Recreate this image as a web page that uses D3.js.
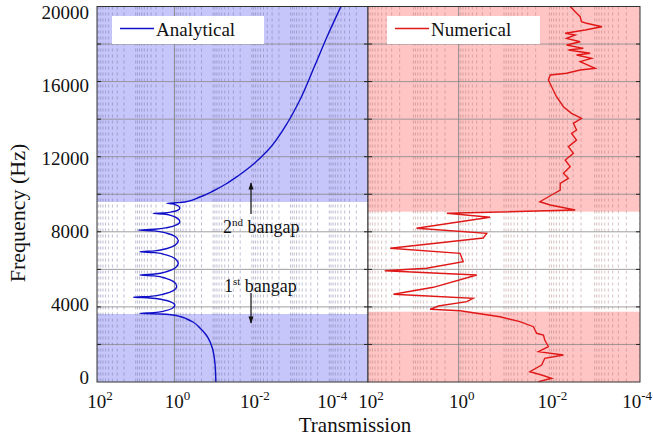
<!DOCTYPE html>
<html>
<head>
<meta charset="utf-8">
<script src="https://cdn.jsdelivr.net/npm/d3@7"></script>
<style>
  body { margin: 0; background: #fff; }
  text { font-family: "Liberation Serif", "Times New Roman", serif; fill: #111; }
</style>
</head>
<body>
<svg id="chart" width="653" height="442"></svg>
<script>
// analytical transmission (left panel)
const analyticalFreq = [0, 905, 1864, 2503, 2876, 3196, 3356, 3489, 3569, 3622, 3643, 3659,
  3693, 3787, 3915, 4085, 4255, 4383, 4477, 4511,
  4559, 4689, 4867, 5105, 5343, 5521, 5651, 5699,
  5749, 5885, 6071, 6320, 6568, 6754, 6890, 6940,
  6986, 7113, 7287, 7518, 7749, 7923, 8050, 8096,
  8132, 8229, 8363, 8541, 8718, 8852, 8949, 8985,
  9006, 9065, 9145, 9252, 9358, 9438, 9497, 9518,
  9550, 9587, 9853, 10173, 10546, 10972, 11451, 12357, 13848, 15020, 16778, 18375, 20000];
const analyticalTrans = [0.0851, 0.0891, 0.107, 0.151, 0.219, 0.331, 0.479, 0.724, 1.10, 2.34, 5.75, 7.76,
  3.47, 1.78, 1.15, 0.977, 1.20, 2.00, 4.37, 11.5,
  4.17, 1.86, 1.07, 0.871, 1.05, 1.66, 3.31, 7.76,
  3.16, 1.55, 0.955, 0.794, 0.955, 1.55, 3.16, 7.76,
  3.16, 1.55, 0.955, 0.794, 0.955, 1.58, 3.39, 8.51,
  3.24, 1.48, 0.891, 0.724, 0.832, 1.15, 1.91, 3.55,
  1.91, 1.15, 0.832, 0.724, 0.776, 0.912, 1.17, 1.58,
  0.891, 0.537, 0.219, 0.100, 0.0468, 0.0229, 0.0112, 0.00380, 0.00117, 0.000575, 0.000245, 0.000115, 0.0000501];

// numerical transmission (right panel)
const numericalFreq = [20, 197, 373, 549, 905, 1262, 1438, 1614, 1880, 2237, 2503, 2594, 2945, 3212, 3478,
  3798, 3872, 4048, 4277, 4458, 4671, 5044, 5699, 5928, 6056, 6407, 6855, 7121, 7670, 7920, 8186, 8772, 8985,
  9161, 9427, 9603, 9960, 10226, 10583, 10849, 11116, 11467, 11824, 12181, 12533, 12889, 13246, 13422, 13779,
  14045, 14311, 14663, 15196, 15728, 16085, 16351, 16442, 16618, 16708, 17060, 17241, 17417, 17507, 17683,
  17773, 17949, 18125, 18306, 18482, 18573, 18748, 18924, 19105, 19190, 19457, 19723, 20000];
const numericalTrans = [0.0174, 0.00891, 0.0148, 0.0269, 0.0148, 0.0126, 0.00490, 0.0174, 0.0105, 0.0126, 0.0135, 0.0191, 0.0224, 0.0447, 0.123,
  0.933, 4.27, 2.82, 0.661, 0.479, 27.5, 3.63, 0.398, 42.7, 5.13, 0.794, 0.933, 32.4, 0.288, 0.240, 8.51, 0.204, 1.82,
  0.00269, 0.00955, 0.0162, 0.00891, 0.00575, 0.00575, 0.00380, 0.00490, 0.00347, 0.00447, 0.00295, 0.00380, 0.00251, 0.00324, 0.00251, 0.00295,
  0.00195, 0.00324, 0.00490, 0.00692, 0.00891, 0.0105, 0.00955, 0.00417, 0.00209, 0.000977, 0.00209, 0.00117, 0.00251, 0.00126, 0.00380,
  0.00178, 0.00417, 0.00209, 0.00417, 0.00269, 0.00447, 0.00162, 0.000692, 0.00151, 0.00195, 0.00209, 0.00269, 0.00347];

// pass bands (white strips), Hz
const analyticalBand = [3623, 9590];
const numericalBand = [3745, 9073];

const freqTicks = [0, 4000, 8000, 12000, 16000, 20000];
const freqGrid = [2000, 4000, 6000, 8000, 10000, 12000, 14000, 16000, 18000];
const leftDecades = [100, 1, 0.01, 0.0001];
const rightDecades = [100, 1, 0.01, 0.0001];

let svg = d3.select("#chart");

let yTop = 6.5, yBottom = 382;
let y = d3.scaleLinear().domain([0, 20000]).range([yBottom, yTop]);
// tick labels sit a little inside the axis ends, like the original
let yLabel = d3.scaleLinear().domain([0, 20000]).range([377, 12.5]);

let panels = [
  { id: "L", x: d3.scaleLog().domain([100, 1e-5]).range([97, 368]), fill: "#c6c6fa", grid: "#6a6a9a",
    band: analyticalBand, decades: leftDecades, freq: analyticalFreq, trans: analyticalTrans, color: "#1010c8",
    curve: d3.curveMonotoneY, name: "Analytical", legendX: 112, legendW: 152 },
  { id: "R", x: d3.scaleLog().domain([100, 1e-4]).range([368, 640]), fill: "#ffc4c4", grid: "#a07070",
    band: numericalBand, decades: rightDecades, freq: numericalFreq, trans: numericalTrans, color: "#e01818",
    curve: d3.curveLinear, name: "Numerical", legendX: 387, legendW: 153 }
];

panels.forEach(function (p) {
  let x0 = p.x.range()[0], x1 = p.x.range()[1];
  let g = svg.append("g");

  svg.append("clipPath").attr("id", "clip" + p.id)
    .append("rect").attr("x", x0).attr("y", yTop).attr("width", x1 - x0).attr("height", yBottom - yTop);
  g.attr("clip-path", "url(#clip" + p.id + ")");

  //coloured background with the white pass band
  g.append("rect").attr("x", x0).attr("y", yTop).attr("width", x1 - x0).attr("height", yBottom - yTop)
    .attr("fill", p.fill);
  g.append("rect").attr("x", x0).attr("y", y(p.band[1])).attr("width", x1 - x0)
    .attr("height", y(p.band[0]) - y(p.band[1])).attr("fill", "#fff");

  //minor log grid (dashed)
  g.selectAll(".minor").data(p.x.ticks()).enter().append("line")
    .attr("x1", d => p.x(d)).attr("x2", d => p.x(d))
    .attr("y1", yTop).attr("y2", yBottom)
    .attr("stroke", p.grid).attr("stroke-opacity", 0.55).attr("stroke-width", 0.8)
    .attr("stroke-dasharray", "3,3");

  //solid grid: 10^0 and every 2000 Hz
  g.append("line")
    .attr("x1", p.x(1)).attr("x2", p.x(1))
    .attr("y1", yTop).attr("y2", yBottom)
    .attr("stroke", "#888").attr("stroke-width", 0.9);
  g.selectAll(".hgrid").data(freqGrid).enter().append("line")
    .attr("x1", x0).attr("x2", x1)
    .attr("y1", d => y(d)).attr("y2", d => y(d))
    .attr("stroke", "#888").attr("stroke-width", 0.8);

  //the curve
  let line = d3.line()
    .x((d, i) => p.x(p.trans[i]))
    .y(d => y(d))
    .curve(p.curve);
  g.append("path").datum(p.freq).attr("d", line)
    .attr("fill", "none").attr("stroke", p.color).attr("stroke-width", 1.4);

  //frame
  svg.append("rect").attr("x", x0).attr("y", yTop).attr("width", x1 - x0).attr("height", yBottom - yTop)
    .attr("fill", "none").attr("stroke", "#333").attr("stroke-width", 1);

  //y ticks, inward on both sides
  [x0, x1].forEach(function (xe) {
    let dir = xe === x0 ? 1 : -1;
    svg.selectAll(null).data(freqGrid).enter().append("line")
      .attr("x1", xe).attr("x2", xe + dir * 4)
      .attr("y1", d => y(d)).attr("y2", d => y(d))
      .attr("stroke", "#222").attr("stroke-width", 1);
  });

  //x tick labels 10^n
  p.decades.forEach(function (d) {
    let e = Math.round(Math.log10(d));
    let xt = p.x(d) + 3;
    let anchor = "middle";
    if (xt > 636) { xt = 652; anchor = "end"; }
    let t = svg.append("text").attr("x", xt).attr("y", 408)
      .attr("text-anchor", anchor).attr("font-size", 19);
    t.append("tspan").text("10");
    t.append("tspan").attr("dy", -8).attr("font-size", 13).text(e);
  });

  //legend
  svg.append("rect").attr("x", p.legendX).attr("y", 16).attr("width", p.legendW).attr("height", 28)
    .attr("fill", "#fff");
  svg.append("line").attr("x1", p.legendX + 8).attr("x2", p.legendX + 42)
    .attr("y1", 28.5).attr("y2", 28.5).attr("stroke", p.color).attr("stroke-width", 1.4);
  svg.append("text").attr("x", p.legendX + 44).attr("y", 36).attr("font-size", 19).text(p.name);
});

//y axis labels
svg.selectAll(".ylab").data(freqTicks).enter().append("text")
  .attr("x", 89).attr("y", d => yLabel(d)).attr("dy", "0.35em")
  .attr("text-anchor", "end").attr("font-size", 19)
  .text(d => d);

svg.append("text").attr("transform", "translate(25,213) rotate(-90)")
  .attr("text-anchor", "middle").attr("font-size", 22).text("Frequency (Hz)");
svg.append("text").attr("x", 355).attr("y", 432)
  .attr("text-anchor", "middle").attr("font-size", 21).text("Transmission");

//band annotations
let arrowX = 251;
svg.append("defs").append("marker").attr("id", "head")
  .attr("viewBox", "0 0 10 10").attr("refX", 9).attr("refY", 5)
  .attr("markerWidth", 7).attr("markerHeight", 6).attr("orient", "auto")
  .append("path").attr("d", "M0,1.5 L10,5 L0,8.5 Z").attr("fill", "#111");
svg.append("line").attr("x1", arrowX).attr("x2", arrowX).attr("y1", 214).attr("y2", 183)
  .attr("stroke", "#111").attr("stroke-width", 1.2).attr("marker-end", "url(#head)");
svg.append("line").attr("x1", arrowX).attr("x2", arrowX).attr("y1", 293).attr("y2", 323)
  .attr("stroke", "#111").attr("stroke-width", 1.2).attr("marker-end", "url(#head)");

let t2 = svg.append("text").attr("x", 223).attr("y", 233).attr("font-size", 18);
t2.append("tspan").text("2");
t2.append("tspan").attr("dy", -7).attr("font-size", 11).text("nd");
t2.append("tspan").attr("dy", 7).text(" bangap");

let t1 = svg.append("text").attr("x", 224).attr("y", 292).attr("font-size", 18);
t1.append("tspan").text("1");
t1.append("tspan").attr("dy", -7).attr("font-size", 11).text("st");
t1.append("tspan").attr("dy", 7).text(" bangap");
</script>
</body>
</html>
